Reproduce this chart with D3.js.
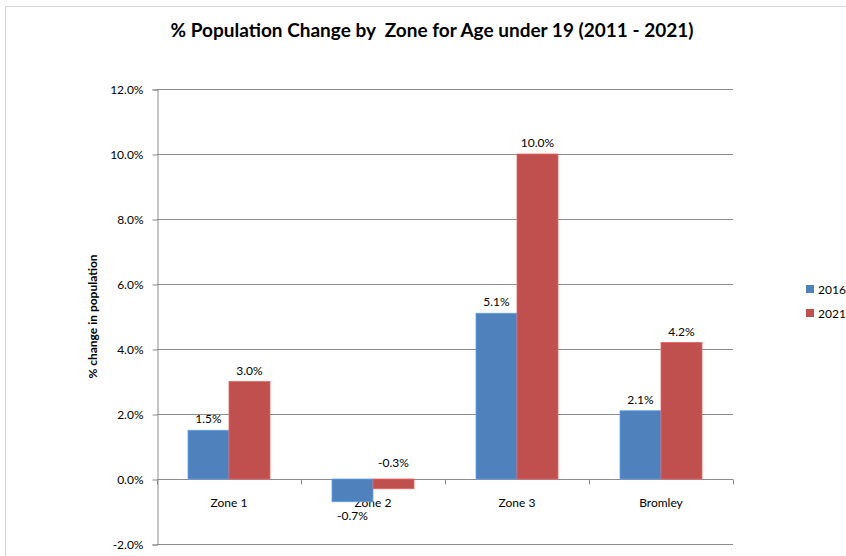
<!DOCTYPE html>
<html>
<head>
<meta charset="utf-8">
<script src="https://cdn.jsdelivr.net/npm/d3@7"></script>
<style>
  body { margin: 0; background: #fff; }
  text { font-family: Lato, "Open Sans", sans-serif; fill: #000; }
</style>
</head>
<body>
<svg id="chart" width="846" height="556"></svg>
<script>
var zones = ['Zone 1', 'Zone 2', 'Zone 3', 'Bromley']
var seriesNames = ['2016', '2021']
var values2016 = [1.5, -0.7, 5.1, 2.1]
var values2021 = [3.0, -0.3, 10.0, 4.2]
var yTicks = [-2, 0, 2, 4, 6, 8, 10, 12]
var colors = ['#4f81bd', '#c0504d']

var svg = d3.select('#chart')

// outer chart border (cut by the window on the right and bottom)
svg.append('rect')
    .attr('x', 5.5).attr('y', 6.5)
    .attr('width', 900).attr('height', 700)
    .attr('fill', 'none')
    .attr('stroke', '#d9d9d9')

var plotLeft = 157, plotRight = 733, plotTop = 89, plotBottom = 544

var x = d3.scaleBand()
    .domain(zones)
    .range([plotLeft, plotRight])

var x1 = d3.scaleBand()
    .domain(seriesNames)
    .range([31, 113])

var y = d3.scaleLinear()
    .domain([-2, 12])
    .range([plotBottom, plotTop])

// gridlines
svg.append('g')
  .selectAll('line')
  .data(yTicks)
  .enter().append('line')
    .attr('x1', plotLeft).attr('x2', plotRight)
    .attr('y1', function (d) { return Math.round(y(d)) + 0.5 })
    .attr('y2', function (d) { return Math.round(y(d)) + 0.5 })
    .attr('stroke', '#8c8c8c')

// y axis
var yAxis = svg.append('g')
    .attr('transform', 'translate(' + (plotLeft + 0.5) + ',0.5)')
    .call(d3.axisLeft(y).tickValues(yTicks).tickSize(5).tickPadding(9)
      .tickFormat(function (d) { return d.toFixed(1) + '%' }))
yAxis.select('.domain').attr('stroke', '#8c8c8c')
yAxis.selectAll('.tick line').attr('stroke', '#8c8c8c')
yAxis.selectAll('text').style('font-size', '12px').attr('fill', '#000')
    .style('font-family', 'Lato, sans-serif')

// x axis at zero line
var y0 = Math.round(y(0)) + 0.5
var xAxis = svg.append('g')
    .attr('transform', 'translate(0,' + y0 + ')')
xAxis.append('line')
    .attr('x1', plotLeft).attr('x2', plotRight)
    .attr('stroke', '#8c8c8c')
xAxis.selectAll('line.tk')
  .data(d3.range(zones.length + 1))
  .enter().append('line')
    .attr('class', 'tk')
    .attr('x1', function (i) { return Math.round(plotLeft + i * x.bandwidth()) + 0.5 })
    .attr('x2', function (i) { return Math.round(plotLeft + i * x.bandwidth()) + 0.5 })
    .attr('y1', 0).attr('y2', 5)
    .attr('stroke', '#8c8c8c')
xAxis.selectAll('text')
  .data(zones)
  .enter().append('text')
    .attr('x', function (d) { return x(d) + x.bandwidth() / 2 })
    .attr('y', 27)
    .attr('text-anchor', 'middle')
    .style('font-size', '12px')
    .text(function (d) { return d })

// bars
var series = [values2016, values2021]
series.forEach(function (vals, s) {
  var g = svg.append('g')
  g.selectAll('rect')
    .data(vals)
    .enter().append('rect')
      .attr('x', function (d, i) { return x(zones[i]) + x1(seriesNames[s]) })
      .attr('width', x1.bandwidth())
      .attr('y', function (d) { return d >= 0 ? y(d) : y(0) })
      .attr('height', function (d) { return Math.abs(y(d) - y(0)) })
      .attr('fill', colors[s])
      .attr('stroke', d3.color(colors[s]).brighter(0.6))
      .attr('stroke-width', 0.8)
  g.selectAll('text')
    .data(vals)
    .enter().append('text')
      .attr('x', function (d, i) { return x(zones[i]) + x1(seriesNames[s]) + x1.bandwidth() / 2 })
      .attr('y', function (d) {
        if (d >= 0) return y(d) - 7
        // short negative bars get their label above the zero line
        return (y(d) - y(0) < 15) ? y(0) - 12 : y(d) + 18
      })
      .attr('text-anchor', 'middle')
      .style('font-size', '12px')
      .text(function (d) { return d.toFixed(1) + '%' })
})

// title
svg.append('text')
    .attr('x', 432).attr('y', 37)
    .attr('text-anchor', 'middle')
    .style('font-size', '19px')
    .style('font-weight', 'bold')
    .style('white-space', 'pre')
    .text('% Population Change by  Zone for Age under 19 (2011 - 2021)')

// y axis title
svg.append('text')
    .attr('transform', 'translate(97,' + ((plotTop + plotBottom) / 2) + ') rotate(-90)')
    .attr('text-anchor', 'middle')
    .style('font-size', '12px')
    .style('font-weight', 'bold')
    .text('% change in population')

// legend
var legend = svg.append('g')
  .selectAll('g')
  .data(seriesNames)
  .enter().append('g')
    .attr('transform', function (d, i) { return 'translate(806,' + (285 + i * 24) + ')' })
legend.append('rect')
    .attr('width', 8).attr('height', 8)
    .attr('fill', function (d, i) { return colors[i] })
legend.append('text')
    .attr('x', 12).attr('y', 9)
    .style('font-size', '12px')
    .text(function (d) { return d })
</script>
</body>
</html>
